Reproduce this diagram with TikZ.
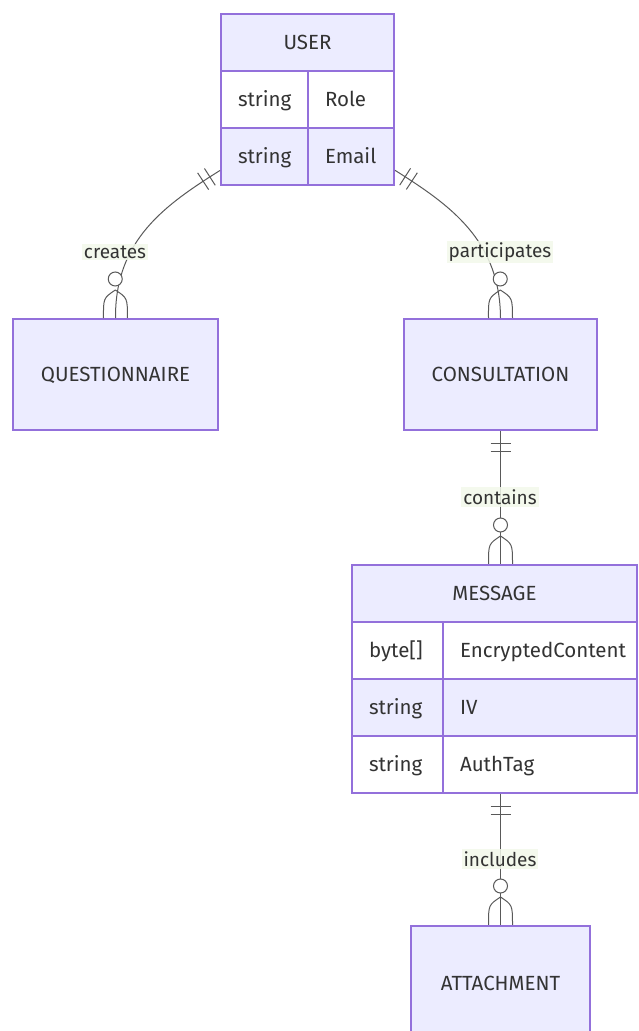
\documentclass[tikz,border=0pt]{standalone}
\usepackage{fontspec}
\setmainfont{Fira Sans}
\usetikzlibrary{decorations.markings}

\definecolor{entfill}{HTML}{ECECFF}
\definecolor{entline}{HTML}{9370DB}
\definecolor{enttext}{HTML}{333333}
\definecolor{lblfill}{HTML}{F2F8EA}

\tikzset{every picture/.style={line width=0.75pt}}
\tikzset{
  entity/.style={draw=entline, line width=2pt, fill=entfill, text=enttext, inner sep=0pt,
    font=\fontsize{20.5}{24}\selectfont, text height=14pt, text depth=0pt},
  attr/.style={entity, minimum height=57pt, inner xsep=17pt},
  attrodd/.style={attr, fill=white},
  relline/.style={draw=black!65, line width=1pt},
  relmark/.style={draw=black!65, line width=1pt},
  rellabel/.style={fill=lblfill, fill opacity=0.85, text opacity=1, text=enttext, inner sep=2pt,
    font=\fontsize{19}{23}\selectfont},
  onemany/.style={postaction={decorate}, decoration={markings,
    mark=at position 12pt with {\draw[relmark] (0pt,-10pt) -- (0pt,10pt);},
    mark=at position 20pt with {\draw[relmark] (0pt,-10pt) -- (0pt,10pt);},
    mark=at position 0.9999 with {\draw[relmark] (-28pt,0pt) .. controls (-20pt,12pt) .. (0pt,12pt)
        (-28pt,0pt) .. controls (-20pt,-12pt) .. (0pt,-12pt);
      \draw[relmark, fill=white] (-39pt,0pt) circle (7pt);}}}
}
\newcommand{\attrtxt}[2]{\makebox[#1pt][l]{#2}}

\begin{document}
\begin{tikzpicture}[x=1pt,y=1pt,yscale=-1,xscale=1]
\useasboundingbox (0,0) rectangle (638,1031);

%Entity: USER
\node[entity, minimum width=173pt, minimum height=57pt] (user) at (307.5,42.5) {USER};
\node[attrodd] (uroletype) at (264.5,99.5) {\attrtxt{53}{string}};
\node[attrodd] (urolename) at (351,99.5) {\attrtxt{52}{Role}};
\node[attr] (uemailtype) at (264.5,156) {\attrtxt{53}{string}};
\node[attr] (uemailname) at (351,156) {\attrtxt{52}{Email}};

%Entity: QUESTIONNAIRE
\node[entity, minimum width=205pt, minimum height=111pt] (quest) at (115.5,374.5) {QUESTIONNAIRE};

%Entity: CONSULTATION
\node[entity, minimum width=193pt, minimum height=111pt] (consult) at (500.5,374.5) {CONSULTATION};

%Entity: MESSAGE
\node[entity, minimum width=285pt, minimum height=57pt] (message) at (494.5,593.5) {MESSAGE};
\node[attrodd] (mcontenttype) at (397.5,650.5) {\attrtxt{57}{byte[]}};
\node[attrodd] (mcontentname) at (540,650.5) {\attrtxt{160}{EncryptedContent}};
\node[attr] (mivtype) at (397.5,707.5) {\attrtxt{57}{string}};
\node[attr] (mivname) at (540,707.5) {\attrtxt{160}{IV}};
\node[attrodd] (mtagtype) at (397.5,764.5) {\attrtxt{57}{string}};
\node[attrodd] (mtagname) at (540,764.5) {\attrtxt{160}{AuthTag}};

%Entity: ATTACHMENT
\node[entity, minimum width=179pt, minimum height=114pt] (attach) at (500.5,983) {ATTACHMENT};

%Relations
\draw[relline, onemany] (uemailtype.198) .. controls (165,205) and (115,240) .. (quest.north);
\draw[relline, onemany] (uemailname.342) .. controls (450,205) and (500,240) .. (consult.north);
\draw[relline, onemany] (consult.south) -- (consult.south |- message.north);
\draw[relline, onemany] (attach.north |- mtagname.south) -- (attach.north);

% Text Node
\node[rellabel] (lblcreates) at (115,252) {creates};
\node[rellabel] (lblparticipates) at (500,252) {participates};
\node[rellabel] (lblcontains) at (500,497) {contains};
\node[rellabel] (lblincludes) at (500,859) {includes};

\end{tikzpicture}
\end{document}
